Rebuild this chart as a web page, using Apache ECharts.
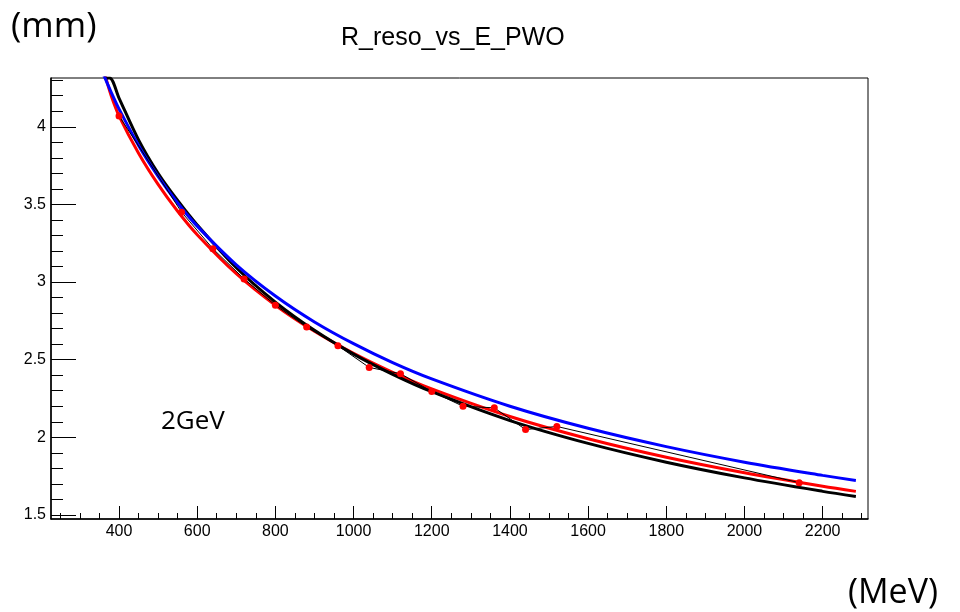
<!DOCTYPE html>
<html>
<head>
<meta charset="utf-8">
<script src="https://cdn.jsdelivr.net/npm/echarts@6/dist/echarts.min.js"></script>
<style>html,body{margin:0;padding:0;background:#fff;}#c{width:960px;height:612px;}</style>
</head>
<body>
<div id="c"></div>
<script>
// Data points (MeV, mm)
var pointE = [400, 560, 640, 720, 800, 880, 960, 1040, 1120, 1200, 1280, 1360, 1440, 1520, 2140];
var pointR = [4.07, 3.45, 3.215, 3.02, 2.85, 2.71, 2.59, 2.45, 2.41, 2.295, 2.20, 2.19, 2.05, 2.07, 1.708];

// Fitted curves
var blueE      = [355, 370, 380, 400, 450, 500, 550, 600, 700, 800, 900, 1000, 1100, 1200, 1400, 1600, 1800, 2000, 2200, 2285];
var blueCurve  = [4.368, 4.279, 4.222, 4.115, 3.880, 3.681, 3.509, 3.360, 3.111, 2.910, 2.743, 2.603, 2.481, 2.376, 2.200, 2.058, 1.940, 1.840, 1.755, 1.722];
var redE       = [355, 368, 380, 400, 450, 500, 550, 600, 700, 800, 900, 1000, 1100, 1200, 1400, 1600, 1800, 2000, 2200, 2285];
var redCurve   = [4.420, 4.300, 4.200, 4.070, 3.830, 3.629, 3.456, 3.305, 3.054, 2.851, 2.683, 2.541, 2.419, 2.312, 2.134, 1.991, 1.872, 1.772, 1.685, 1.652];
var blackE     = [362, 376, 400, 450, 500, 550, 600, 700, 800, 900, 1000, 1100, 1200, 1400, 1600, 1800, 2000, 2200, 2285];
var blackCurve = [4.314, 4.314, 4.185, 3.915, 3.700, 3.525, 3.368, 3.092, 2.871, 2.689, 2.536, 2.406, 2.294, 2.108, 1.961, 1.840, 1.739, 1.652, 1.619];

// Axis ticks
var xMajor = [400, 600, 800, 1000, 1200, 1400, 1600, 1800, 2000, 2200];
var xMinor = [250, 300, 350, 400, 450, 500, 550, 600, 650, 700, 750, 800, 850, 900, 950, 1000, 1050, 1100, 1150, 1200, 1250, 1300, 1350, 1400, 1450, 1500, 1550, 1600, 1650, 1700, 1750, 1800, 1850, 1900, 1950, 2000, 2050, 2100, 2150, 2200, 2250, 2300];
var yMajor = [1.5, 2, 2.5, 3, 3.5, 4];
var yMinor = [1.5, 1.6, 1.7, 1.8, 1.9, 2.0, 2.1, 2.2, 2.3, 2.4, 2.5, 2.6, 2.7, 2.8, 2.9, 3.0, 3.1, 3.2, 3.3, 3.4, 3.5, 3.6, 3.7, 3.8, 3.9, 4.0, 4.1, 4.2, 4.3];

function zip(a, b) { return a.map(function (v, i) { return [v, b[i]]; }); }

var chart = echarts.init(document.getElementById('c'), null, { renderer: 'canvas' });
var font = 'Liberation Sans, Arial, Helvetica, sans-serif';
var XMIN = 226, XMAX = 2316, YMIN = 1.474, YMAX = 4.314;
function plain(v) { return String(Math.round(v * 1000) / 1000); }

chart.setOption({
  animation: false,
  backgroundColor: '#ffffff',
  grid: { left: 51, top: 78, right: 92, bottom: 93, show: true, borderColor: '#000', borderWidth: 1, backgroundColor: 'transparent' },
  xAxis: [
    { type: 'value', position: 'bottom', min: XMIN, max: XMAX, splitLine: { show: false },
      axisLine: { show: true, onZero: false, lineStyle: { color: '#000', width: 1.5 } },
      axisTick: { show: true, inside: true, length: 13, customValues: xMajor, lineStyle: { color: '#000', width: 1 } },
      axisLabel: { show: true, customValues: xMajor, formatter: plain, color: '#000', fontSize: 16, fontFamily: font, margin: 5 } },
    { type: 'value', position: 'bottom', min: XMIN, max: XMAX, splitLine: { show: false },
      axisLine: { show: false, onZero: false },
      axisTick: { show: true, inside: true, length: 6, customValues: xMinor, lineStyle: { color: '#000', width: 1 } },
      axisLabel: { show: false } }
  ],
  yAxis: [
    { type: 'value', position: 'left', min: YMIN, max: YMAX, splitLine: { show: false },
      axisLine: { show: true, onZero: false, lineStyle: { color: '#000', width: 1.5 } },
      axisTick: { show: true, inside: true, length: 25, customValues: yMajor, lineStyle: { color: '#000', width: 1 } },
      axisLabel: { show: true, customValues: yMajor, formatter: plain, color: '#000', fontSize: 16, fontFamily: font, margin: 5 } },
    { type: 'value', position: 'left', min: YMIN, max: YMAX, splitLine: { show: false },
      axisLine: { show: false, onZero: false },
      axisTick: { show: true, inside: true, length: 12, customValues: yMinor, lineStyle: { color: '#000', width: 1 } },
      axisLabel: { show: false } }
  ],
  series: [
    { name: 'red fit', type: 'line', data: zip(redE, redCurve), smooth: 0.3, showSymbol: false, symbol: 'none', clip: true,
      lineStyle: { color: '#ff0000', width: 3 }, z: 2 },
    { name: 'black fit', type: 'line', data: zip(blackE, blackCurve), smooth: 0.3, showSymbol: false, symbol: 'none', clip: true,
      lineStyle: { color: '#000000', width: 3 }, z: 3 },
    { name: 'blue fit', type: 'line', data: zip(blueE, blueCurve), smooth: 0.3, showSymbol: false, symbol: 'none', clip: true,
      lineStyle: { color: '#0000ff', width: 3 }, z: 4 },
    { name: 'data', type: 'line', data: zip(pointE, pointR), smooth: false, symbol: 'circle', symbolSize: 7, showSymbol: true, clip: true,
      lineStyle: { color: '#000000', width: 1 }, itemStyle: { color: '#ff0000', borderWidth: 0 }, z: 5 }
  ],
  graphic: [
    { type: 'text', left: 341, top: 26, style: { text: 'R_reso_vs_E_PWO', font: '25px ' + font, fill: '#000' } },
    { type: 'text', left: 11, top: 10, style: { text: '(mm)', font: '35px "Open Sans", sans-serif', fill: '#000' } },
    { type: 'text', left: 161, top: 409, style: { text: '2GeV', font: '26px "Open Sans", sans-serif', fill: '#000' } },
    { type: 'text', left: 848, top: 576, style: { text: '(MeV)', font: '34px "Open Sans", sans-serif', fill: '#000' } }
  ]
});
</script>
</body>
</html>
